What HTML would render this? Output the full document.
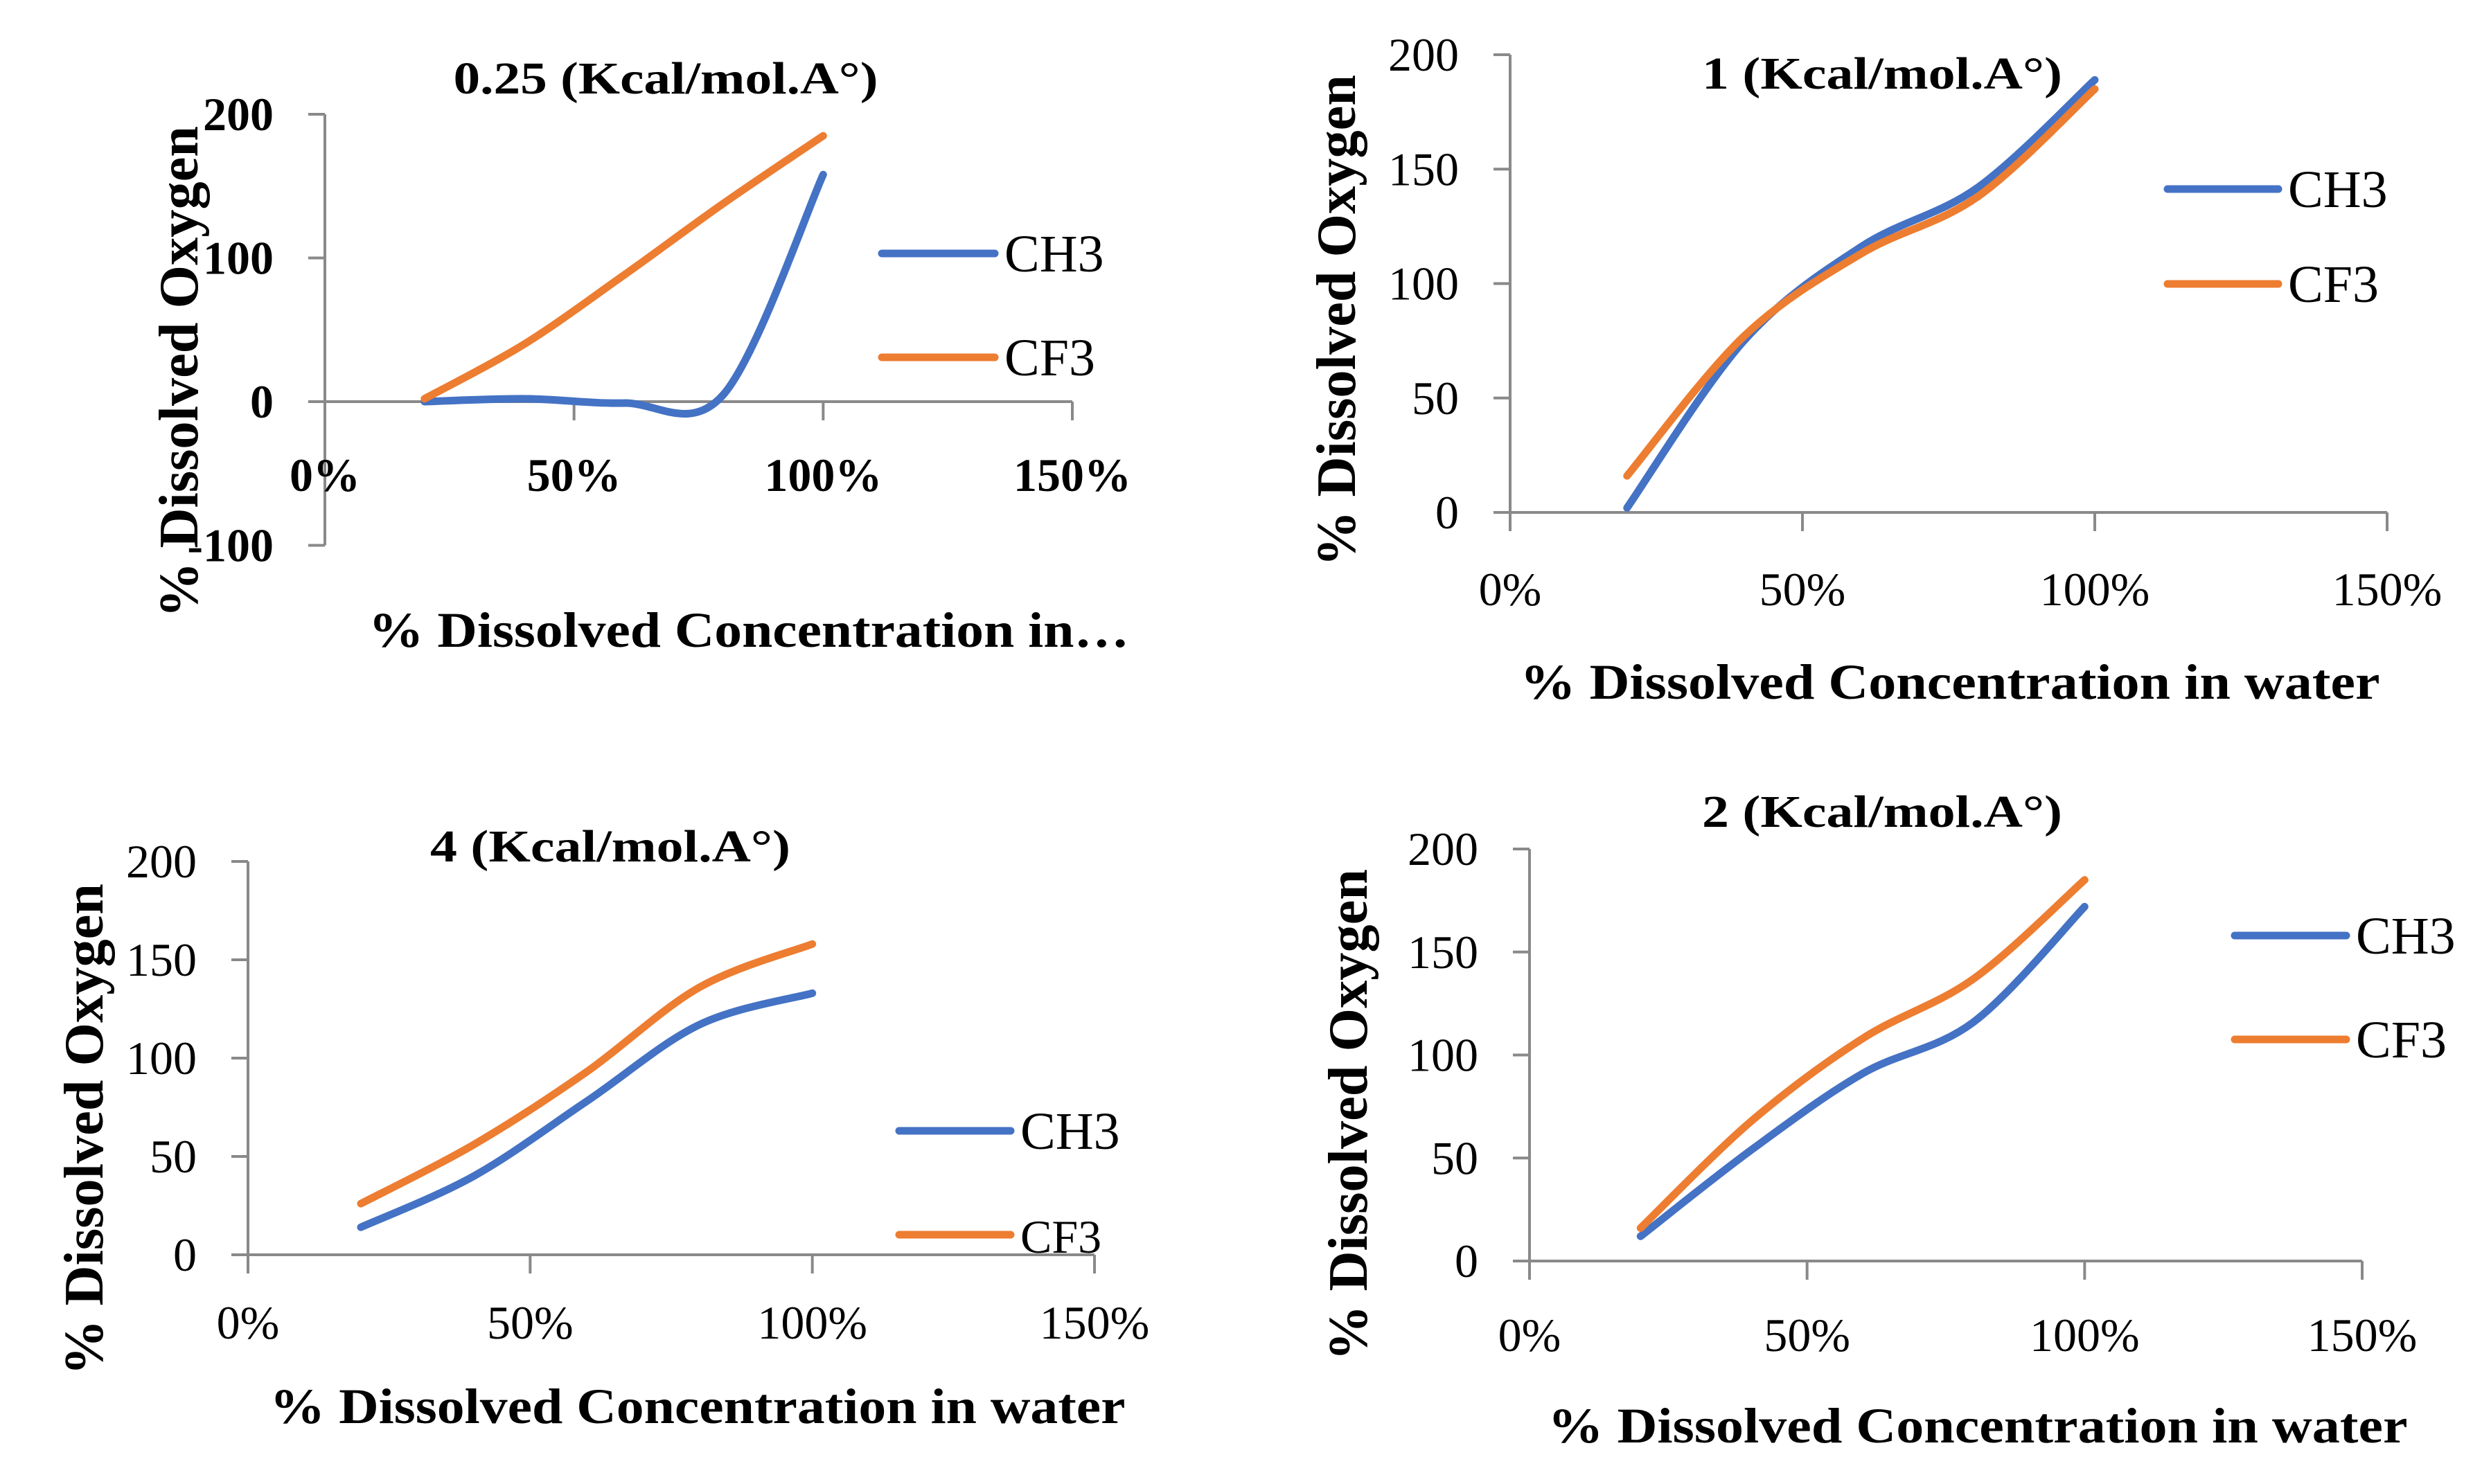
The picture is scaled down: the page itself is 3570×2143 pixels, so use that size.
<!DOCTYPE html>
<html><head><meta charset="utf-8"><style>
html,body{margin:0;padding:0;background:#fff;}
svg{display:block;}
text{font-family:"Liberation Serif",serif;fill:#000;}
</style></head><body>
<svg id="root" width="3570" height="2143" viewBox="0 0 3570 2143" xmlns="http://www.w3.org/2000/svg"></svg>
<script>
// shared data
const xCats = [20, 40, 60, 80, 100];
const xTicks = [0, 50, 100, 150];
const xTickLabels = ["0%", "50%", "100%", "150%"];
const seriesNames = ["CH3", "CF3"];
// chart A: 0.25
const aCH3 = [0, 2, -1, 5, 158];
const aCF3 = [2, 40, 88, 138, 185];
const aYTicks = [-100, 0, 100, 200];
// chart B: 1
const bCH3 = [2, 75, 116, 142, 189];
const bCF3 = [16, 77, 113, 138, 185];
// chart C: 4
const cCH3 = [14, 40, 78, 117, 133];
const cCF3 = [26, 56, 93, 136, 158];
// chart D: 2
const dCH3 = [12, 54, 91, 116, 172];
const dCF3 = [16, 68, 108, 137, 185];
const stdYTicks = [0, 50, 100, 150, 200];

const NS = "http://www.w3.org/2000/svg";
const root = document.getElementById('root');
function mk(tag, attrs, parent, txt){
  const e = document.createElementNS(NS, tag);
  for (const k in attrs) e.setAttribute(k, attrs[k]);
  if (txt !== undefined) e.textContent = txt;
  parent.appendChild(e);
  return e;
}
function smooth(pts){
  let d = "M" + pts[0][0] + "," + pts[0][1];
  for (let i = 0; i < pts.length - 1; i++){
    const p0 = pts[Math.max(0, i-1)], p1 = pts[i], p2 = pts[i+1], p3 = pts[Math.min(pts.length-1, i+2)];
    const c1x = p1[0] + (p2[0]-p0[0])/6, c1y = p1[1] + (p2[1]-p0[1])/6;
    const c2x = p2[0] - (p3[0]-p1[0])/6, c2y = p2[1] - (p3[1]-p1[1])/6;
    d += " C" + c1x + "," + c1y + " " + c2x + "," + c2y + " " + p2[0] + "," + p2[1];
  }
  return d;
}
function chart(cfg){
  const g = mk('g', {}, root);
  
  
  const X = v => cfg.x0 + (v - 0) / 150 * (cfg.x150 - cfg.x0);
  const Y = v => cfg.yZero + (v / cfg.yRef) * (cfg.yRefPx - cfg.yZero);
  const yMin = cfg.yTicks[0], yMax = cfg.yTicks[cfg.yTicks.length-1];
  const tw = cfg.boldTicks ? 'bold' : 'normal';
  const ya = mk('line', {x1:cfg.x0, x2:cfg.x0, y1:Y(yMax), y2:Y(yMin), stroke:'#898989', 'stroke-width':4}, g);
  
  
  cfg.yTicks.forEach(t => {
    const tk = mk('line', {x1:cfg.x0-24, x2:cfg.x0, y1:Y(t), y2:Y(t), stroke:'#898989', 'stroke-width':4}, g);
    
    
    const tl = mk('text', {x:cfg.x0-74, y:Y(t)+23, 'text-anchor':'end', 'font-size':68, 'font-weight':tw}, g, String(t));
    
    
  });
  const xa = mk('line', {x1:X(0), x2:X(150), y1:Y(0), y2:Y(0), stroke:'#898989', 'stroke-width':4}, g);
  
  
  xTicks.forEach((t, i) => {
    const tk = mk('line', {x1:X(t), x2:X(t), y1:Y(0), y2:Y(0)+27, stroke:'#898989', 'stroke-width':4}, g);
    
    
    const tl = mk('text', {x:X(t), y:cfg.xLabY+2, 'text-anchor':'middle', 'font-size':68, 'font-weight':tw}, g, xTickLabels[i]);
    
    
  });
  const cols = ['#4472C4', '#ED7D31'];
  [cfg.ch3, cfg.cf3].forEach((vals, si) => {
    const pts = xCats.map((c, i) => [X(c), Y(vals[i])]);
    const p = mk('path', {d:smooth(pts), fill:'none', stroke:cols[si], 'stroke-width':11, 'stroke-linecap':'round', 'stroke-linejoin':'round'}, g);
    
    
  });
  [cfg.legY1, cfg.legY2].forEach((ly, si) => {
    const ll = mk('line', {x1:cfg.legX1, x2:cfg.legX2, y1:ly, y2:ly, stroke:cols[si], 'stroke-width':11, 'stroke-linecap':'round'}, g);
    
    
    const attrs = {x:cfg.legX2+14, y:ly+26, 'font-size':76};
    if (cfg.sansCF3 && si === 1) { attrs['font-family'] = '"Liberation Sans Narrow","Liberation Sans",sans-serif'; attrs['font-size'] = 68; }
    const lt = mk('text', attrs, g, seriesNames[si]);
    
    
  });
  const tt = mk('text', {x:cfg.titleX, y:cfg.titleY, 'text-anchor':'middle', 'font-size':66, 'font-weight':'bold', textLength:cfg.titleLen, lengthAdjust:'spacingAndGlyphs'}, g, cfg.title);
  
  
  const xt = mk('text', {x:cfg.xtX, y:cfg.xtY, 'text-anchor':'middle', 'font-size':72, 'font-weight':'bold', textLength:cfg.xtLen, lengthAdjust:'spacingAndGlyphs'}, g, cfg.xTitle);
  
  
  const yt = mk('text', {x:0, y:0, 'text-anchor':'middle', 'font-size':80, 'font-weight':'bold', textLength:710, lengthAdjust:'spacingAndGlyphs', transform:'translate(' + cfg.ytX + ',' + cfg.ytY + ') rotate(-90)'}, g, '% Dissolved Oxygen');
  
  
}
chart({name:'chart-0-25', boldTicks:true, ch3:aCH3, cf3:aCF3, yTicks:aYTicks, x0:469, x150:1548, yZero:580, yRef:200, yRefPx:165,
  xLabY:707, legX1:1273, legX2:1436, legY1:366, legY2:516, title:'0.25 (Kcal/mol.A°)', titleX:961, titleY:135, titleLen:613,
  xTitle:'% Dissolved Concentration in…', xtX:1081, xtY:934, xtLen:1098, ytX:285, ytY:537});
chart({name:'chart-1', ch3:bCH3, cf3:bCF3, yTicks:stdYTicks, x0:2180, x150:3446, yZero:740, yRef:200, yRefPx:79,
  xLabY:872, legX1:3129, legX2:3289, legY1:273, legY2:410, title:'1 (Kcal/mol.A°)', titleX:2717, titleY:128, titleLen:520,
  xTitle:'% Dissolved Concentration in water', xtX:2815, xtY:1009, xtLen:1241, ytX:1956, ytY:463});
chart({name:'chart-4', ch3:cCH3, cf3:cCF3, yTicks:stdYTicks, x0:358, x150:1580, yZero:1812, yRef:200, yRefPx:1244,
  xLabY:1931, legX1:1298, legX2:1459, legY1:1633, legY2:1783, sansCF3:true, title:'4 (Kcal/mol.A°)', titleX:881, titleY:1244, titleLen:520,
  xTitle:'% Dissolved Concentration in water', xtX:1007, xtY:2055, xtLen:1235, ytX:148, ytY:1631});
chart({name:'chart-2', ch3:dCH3, cf3:dCF3, yTicks:stdYTicks, x0:2208, x150:3410, yZero:1821, yRef:200, yRefPx:1226,
  xLabY:1949, legX1:3226, legX2:3387, legY1:1351, legY2:1501, title:'2 (Kcal/mol.A°)', titleX:2717, titleY:1194, titleLen:520,
  xTitle:'% Dissolved Concentration in water', xtX:2855, xtY:2083, xtLen:1241, ytX:1973, ytY:1610});
</script>
</body></html>
